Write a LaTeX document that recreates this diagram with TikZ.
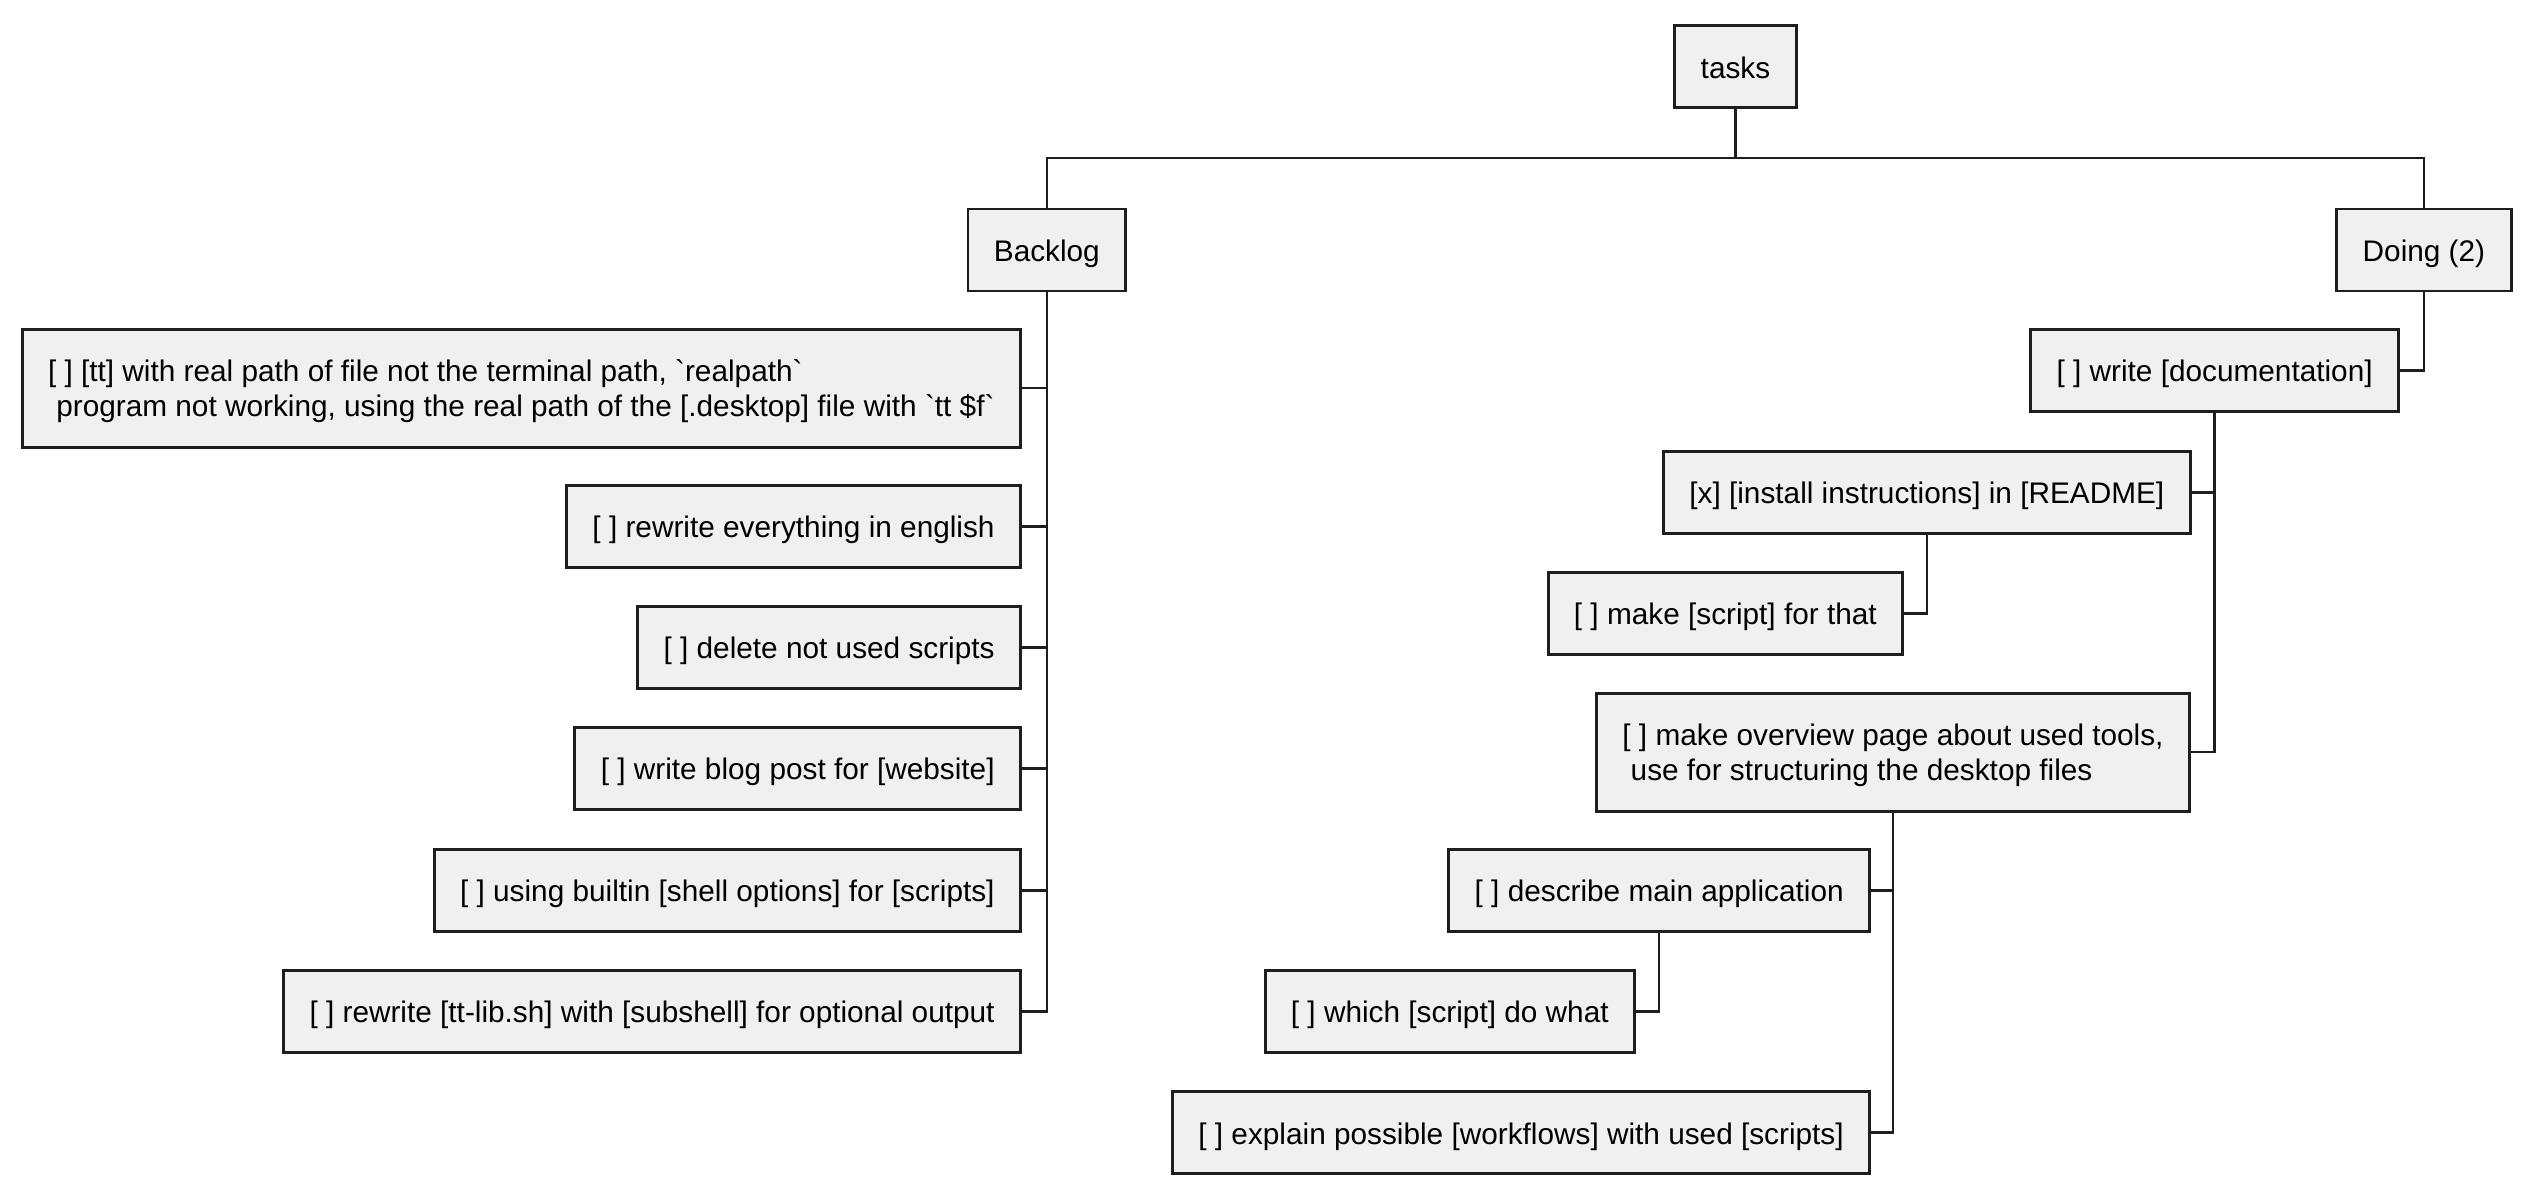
\documentclass[tikz,border=0pt]{standalone}
\usepackage{fontspec}
\setmainfont{Liberation Sans}
\usetikzlibrary{positioning}
\definecolor{TaskFill}{HTML}{F0F0F0}
\definecolor{TaskLine}{HTML}{1E1E1E}
\tikzset{
    taskbase/.style = {draw=TaskLine, fill=TaskFill, rectangle, line width=1.8pt,
        inner xsep=16pt, align=left,
        font=\fontsize{18.4pt}{21.5pt}\selectfont},
    task/.style = {taskbase, minimum height=50.7pt,
        text height=18.1pt, text depth=3.9pt},
    tasktwo/.style = {taskbase, minimum height=72.7pt,
        text height=38.3pt, text depth=3.9pt},
    link/.style = {draw=TaskLine, line width=1.4pt}
}
\newcommand{\bq}{\textasciigrave}

\begin{document}
\begin{tikzpicture}[x=1pt, y=-1pt]
    \useasboundingbox (0,0) rectangle (1568,741.6);
    % top of the tree
    \node [task] (tasks) at (1072.6,41.2) {tasks};
    \node [task] (backlog) at (647,154.5) {Backlog};
    \node [task] (doing) at (1498.1,154.5) {Doing (2)};
    \coordinate (bar) at (1072.6,97.5);
    % backlog column
    \node [tasktwo, anchor=north east] (tt) at (631.6,202.7)
        {[ ] [tt] with real path of file not the terminal path, \bq realpath\bq\\{}\ program not working, using the real path of the [.desktop] file with \bq tt \$f\bq};
    \node [task, anchor=north east] (rew) at (631.6,299.1) {[ ] rewrite everything in english};
    \node [task, anchor=north east] (del) at (631.6,373.9) {[ ] delete not used scripts};
    \node [task, anchor=north east] (blog) at (631.6,448.7) {[ ] write blog post for [website]};
    \node [task, anchor=north east] (shell) at (631.6,524.1) {[ ] using builtin [shell options] for [scripts]};
    \node [task, anchor=north east] (lib) at (631.6,598.9) {[ ] rewrite [tt-lib.sh] with [subshell] for optional output};
    % doing column
    \node [task, anchor=north east] (doc) at (1483.3,202.7) {[ ] write [documentation]};
    \node [task, anchor=north east] (inst) at (1354.5,278.1) {[x] [install instructions] in [README]};
    \node [task, anchor=north east] (mkscript) at (1176.8,352.9) {[ ] make [script] for that};
    \node [tasktwo, anchor=north east] (overview) at (1354.1,427.7)
        {[ ] make overview page about used tools,\\{}\ use for structuring the desktop files};
    \node [task, anchor=north east] (describe) at (1156.4,524.1) {[ ] describe main application};
    \node [task, anchor=north east] (which) at (1011.1,598.9) {[ ] which [script] do what};
    \node [task, anchor=north east] (explain) at (1156.4,673.7) {[ ] explain possible [workflows] with used [scripts]};
    % connectors
    \draw [link] (tasks.south) -- (bar);
    \draw [link] (backlog.north) |- (bar) -| (doing.north);
    \foreach \t in {tt,rew,del,blog,shell,lib}{
        \draw [link] (backlog.south) |- (\t.east);
    }
    \draw [link] (doing.south) |- (doc.east);
    \foreach \t in {inst,overview}{
        \draw [link] (doc.south) |- (\t.east);
    }
    \draw [link] (inst.south) |- (mkscript.east);
    \foreach \t in {describe,explain}{
        \draw [link] (overview.south) |- (\t.east);
    }
    \draw [link] (describe.south) |- (which.east);
\end{tikzpicture}
\end{document}
